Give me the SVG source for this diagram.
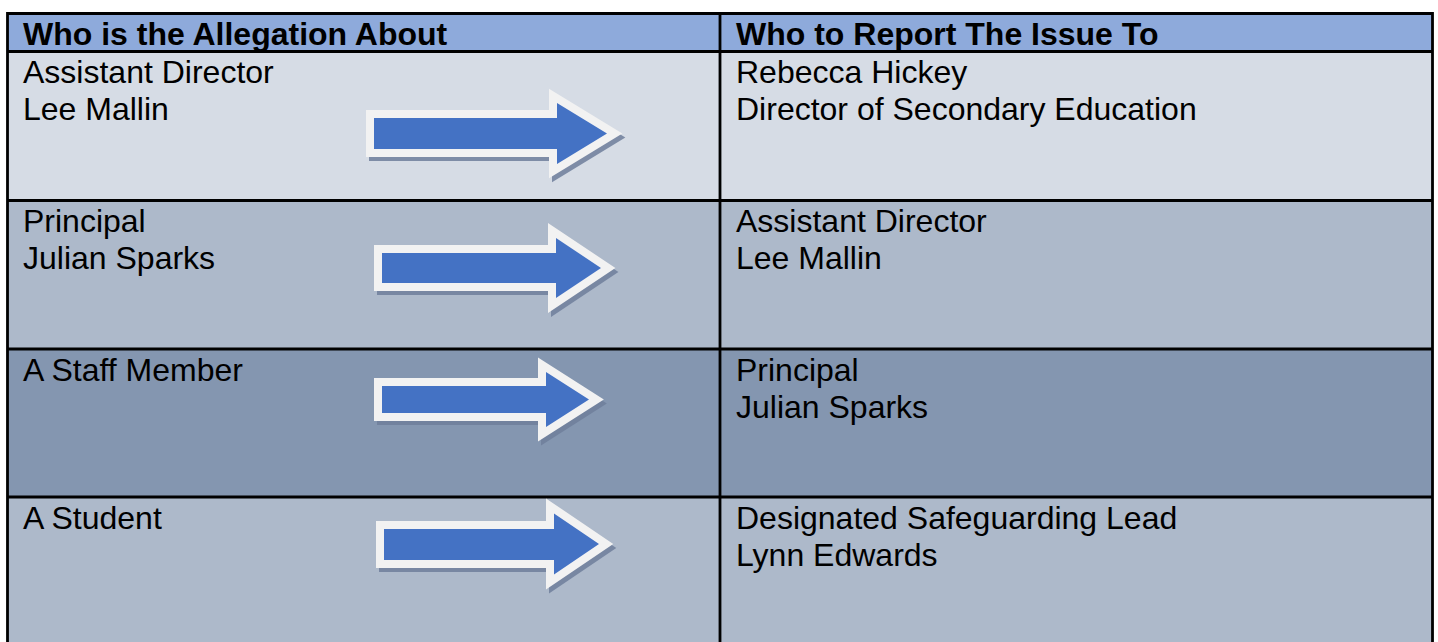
<svg xmlns="http://www.w3.org/2000/svg" width="1438" height="642" viewBox="0 0 1438 642">
<style>
.t{font-family:"Liberation Sans",Arial,sans-serif;font-size:32px;fill:#000}
.h{font-weight:bold}
.grid{stroke:#000;stroke-width:2.8;fill:none}
.arr{fill:#4472c4;stroke:#f2f2f2;stroke-width:16;stroke-linejoin:miter;stroke-miterlimit:4;paint-order:stroke}
.sh{fill:#6f7f9c;stroke:#6f7f9c;stroke-width:16;stroke-linejoin:miter;opacity:0.85}
</style>
<rect width="1438" height="642" fill="#fff"/>
<g id="backgrounds">
<rect x="7.5" y="13.5" width="1425" height="38" fill="#8eaadb"/>
<rect x="7.5" y="51.5" width="1425" height="149" fill="#d6dce5"/>
<rect x="7.5" y="200.5" width="1425" height="148.5" fill="#adb9ca"/>
<rect x="7.5" y="349" width="1425" height="148" fill="#8496b0"/>
<rect x="7.5" y="497" width="1425" height="145" fill="#adb9ca"/>
</g>
<g id="grid" class="grid">
<path d="M7.5 642 V13.5 H1432.5 V642"/>
<path d="M720 13.5 V642"/>
<path d="M7.5 51.5 H1432.5 M7.5 200.5 H1432.5 M7.5 349 H1432.5 M7.5 497 H1432.5"/>
</g>
<g id="header">
<text class="t h" x="23" y="45">Who is the Allegation About</text>
<text class="t h" x="736" y="45">Who to Report The Issue To</text>
</g>
<g id="row1">
<text class="t" x="23" y="82.5">Assistant Director</text>
<text class="t" x="23" y="119.5">Lee Mallin</text>
<text class="t" x="736" y="82.5">Rebecca Hickey</text>
<text class="t" x="736" y="119.5">Director of Secondary Education</text>
</g>
<g id="row2">
<text class="t" x="23" y="232">Principal</text>
<text class="t" x="23" y="269">Julian Sparks</text>
<text class="t" x="736" y="232">Assistant Director</text>
<text class="t" x="736" y="269">Lee Mallin</text>
</g>
<g id="row3">
<text class="t" x="23" y="381">A Staff Member</text>
<text class="t" x="736" y="381">Principal</text>
<text class="t" x="736" y="418">Julian Sparks</text>
</g>
<g id="row4">
<text class="t" x="23" y="529">A Student</text>
<text class="t" x="736" y="529">Designated Safeguarding Lead</text>
<text class="t" x="736" y="566">Lynn Edwards</text>
</g>
<g id="connectors">
<g id="arrow1">
<polygon class="sh" transform="translate(3,4)" points="374,118 557,118 557,103 607,133.5 557,164 557,149 374,149"/>
<polygon class="arr" points="374,118 557,118 557,103 607,133.5 557,164 557,149 374,149"/>
</g>
<g id="arrow2">
<polygon class="sh" transform="translate(3,4)" points="382,253 556,253 556,238 601,268 556,298 556,283 382,283"/>
<polygon class="arr" points="382,253 556,253 556,238 601,268 556,298 556,283 382,283"/>
</g>
<g id="arrow3">
<polygon class="sh" transform="translate(3,4)" points="382,386 546,386 546,372 589,399.5 546,427 546,413 382,413"/>
<polygon class="arr" points="382,386 546,386 546,372 589,399.5 546,427 546,413 382,413"/>
</g>
<g id="arrow4">
<polygon class="sh" transform="translate(3,4)" points="384,529 554,529 554,513.5 599,544 554,574.5 554,560 384,560"/>
<polygon class="arr" points="384,529 554,529 554,513.5 599,544 554,574.5 554,560 384,560"/>
</g>
</g>
</svg>
